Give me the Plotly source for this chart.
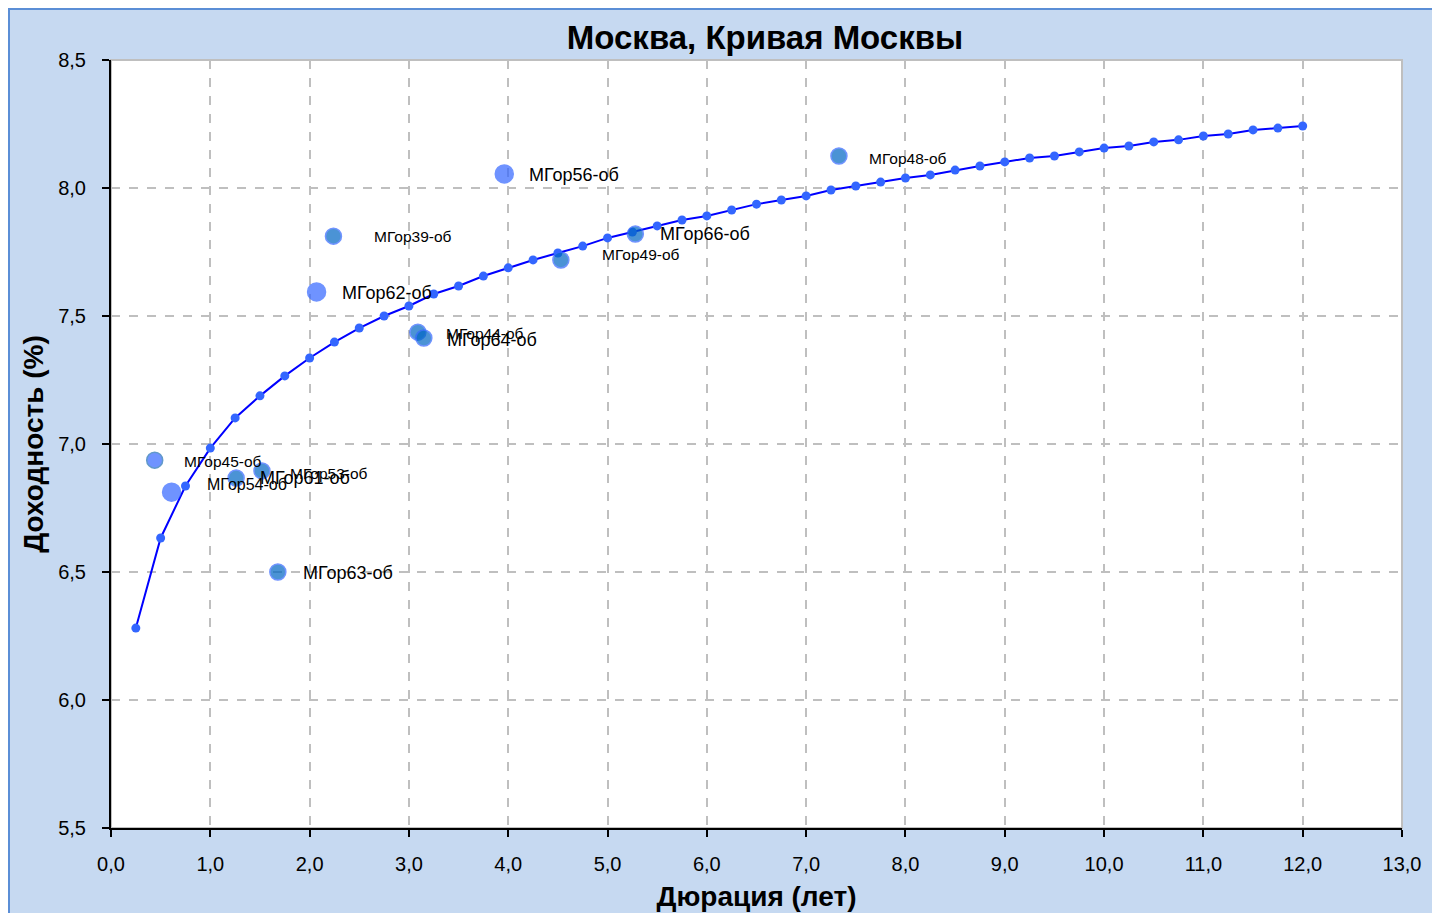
import plotly.graph_objects as go

# Curve (G-curve) points
curve_x = [0.25, 0.5, 0.75, 1.0, 1.25, 1.5, 1.75, 2.0, 2.25, 2.5, 2.75, 3.0, 3.25, 3.5, 3.75, 4.0,
           4.25, 4.5, 4.75, 5.0, 5.25, 5.5, 5.75, 6.0, 6.25, 6.5, 6.75, 7.0, 7.25, 7.5, 7.75, 8.0,
           8.25, 8.5, 8.75, 9.0, 9.25, 9.5, 9.75, 10.0, 10.25, 10.5, 10.75, 11.0, 11.25, 11.5, 11.75, 12.0]
curve_y = [6.281, 6.633, 6.836, 6.984, 7.102, 7.188, 7.266, 7.336, 7.398, 7.453, 7.500, 7.539,
           7.586, 7.617, 7.656, 7.688, 7.719, 7.746, 7.773, 7.805, 7.828, 7.852, 7.875, 7.891,
           7.914, 7.937, 7.953, 7.969, 7.992, 8.008, 8.023, 8.039, 8.051, 8.070, 8.086, 8.102,
           8.117, 8.125, 8.141, 8.156, 8.164, 8.180, 8.188, 8.203, 8.211, 8.227, 8.234, 8.242]

# Bonds
bond_names = ["МГор45-об", "МГор54-об", "МГор61-об", "МГор53-об", "МГор63-об", "МГор62-об",
              "МГор39-об", "МГор44-об", "МГор64-об", "МГор56-об", "МГор49-об", "МГор66-об", "МГор48-об"]
bond_x = [0.44, 0.61, 1.26, 1.52, 1.68, 2.07, 2.24, 3.09, 3.15, 3.96, 4.53, 5.28, 7.33]
bond_y = [6.937, 6.812, 6.867, 6.895, 6.500, 7.594, 7.812, 7.437, 7.414, 8.055, 7.719, 7.820, 8.125]

x_ticks = list(range(0, 14))
y_ticks = [5.5, 6.0, 6.5, 7.0, 7.5, 8.0, 8.5]

# styles
light = "#3366FF"
dark = "#0066C4"
marker_fill = [light, light, dark, dark, dark, light, dark, dark, dark, light, dark, dark, dark]
marker_line = ["#1F6FB5", light, light, light, light, light, light, light, light, light, light, light, light]
marker_size = [16, 18, 16, 16, 16, 18, 16, 16, 16, 18, 16, 16, 16]
label_size = [15.5, 16, 18, 15.5, 18, 18, 15.5, 15.5, 18, 18, 15.5, 18, 15.5]
label_dx = [27, 33, 22, 26, 23, 23, 39, 26, 21, 23, 39, 23, 28]
label_dy = [1, -8, 0, 3, 1, 1, 0, 1, 2, 1, -5, 0, 2]

FONT = "Liberation Sans, Arial, sans-serif"

fig = go.Figure()
fig.add_trace(go.Scatter(
    x=curve_x, y=curve_y, mode="lines+markers",
    line=dict(color="#0000FF", width=2),
    marker=dict(color="#3366FF", size=9),
    showlegend=False, hoverinfo="x+y"))
fig.add_trace(go.Scatter(
    x=bond_x, y=bond_y, mode="markers", text=bond_names,
    marker=dict(color=marker_fill, size=marker_size, line=dict(color=marker_line, width=1.5)),
    showlegend=False, hoverinfo="text+x+y"))

for n, x, y, fs, dx, dy in zip(bond_names, bond_x, bond_y, label_size, label_dx, label_dy):
    fig.add_annotation(x=x, y=y, text=n, showarrow=False, xanchor="left", yanchor="middle",
                       xshift=dx, yshift=-dy,
                       font=dict(family=FONT, size=fs, color="#000000"))

# page body has an 8px margin; figure coordinates are screen minus 8
OFF = 8
W, H = 1432, 905
L, R, T, B = 111 - OFF, W - (1402 - OFF), 60 - OFF, H - (828 - OFF)
pw, ph = W - L - R, H - T - B


def px_x(p):
    return (p - OFF - L) / pw


def px_y(p):
    return (H - B - (p - OFF)) / ph


shapes = [
    # plot area border (grey top/right)
    dict(type="rect", xref="paper", yref="paper", x0=0, x1=1, y0=0, y1=1,
         line=dict(color="#BFBFBF", width=2), layer="below"),
    # outer frame lines
    dict(type="line", xref="paper", yref="paper", x0=px_x(9), x1=px_x(9), y0=px_y(920), y1=px_y(8),
         line=dict(color="#5B8ED6", width=2)),
    dict(type="line", xref="paper", yref="paper", x0=px_x(8), x1=px_x(1445), y0=px_y(9), y1=px_y(9),
         line=dict(color="#5B8ED6", width=2)),
]

tick_font = dict(family=FONT, size=20, color="#000000")
title_font = dict(family=FONT, size=28, color="#000000")

fig.update_layout(
    width=W, height=H,
    margin=dict(l=L, r=R, t=T, b=B, autoexpand=False),
    paper_bgcolor="#C6D9F1", plot_bgcolor="#FFFFFF",
    separators=", ",
    title=dict(text="<b>Москва, Кривая Москвы</b>", x=px_x(765), xref="paper", xanchor="center",
               y=1 - (37 - OFF) / H, yref="container", yanchor="middle",
               font=dict(family=FONT, size=33, color="#000000")),
    shapes=shapes,
    xaxis=dict(range=[0, 13], tickvals=x_ticks, tickformat=".1f",
               showgrid=True, gridcolor="#BFBFBF", griddash="dash", gridwidth=1.5,
               showline=True, linecolor="#000000", linewidth=2,
               ticks="outside", ticklen=7, tickwidth=2, tickcolor="#000000",
               ticklabelstandoff=10, tickfont=tick_font, zeroline=False,
               title=dict(text="<b>Дюрация (лет)</b>", font=title_font, standoff=12)),
    yaxis=dict(range=[5.5, 8.5], tickvals=y_ticks, tickformat=".1f",
               showgrid=True, gridcolor="#BFBFBF", griddash="dash", gridwidth=1.5,
               showline=True, linecolor="#000000", linewidth=2,
               ticks="outside", ticklen=7, tickwidth=2, tickcolor="#000000",
               ticklabelstandoff=12, tickfont=tick_font, zeroline=False,
               title=dict(text="<b>Доходность (%)</b>", font=title_font, standoff=6)),
)

fig.write_html("out.html")
